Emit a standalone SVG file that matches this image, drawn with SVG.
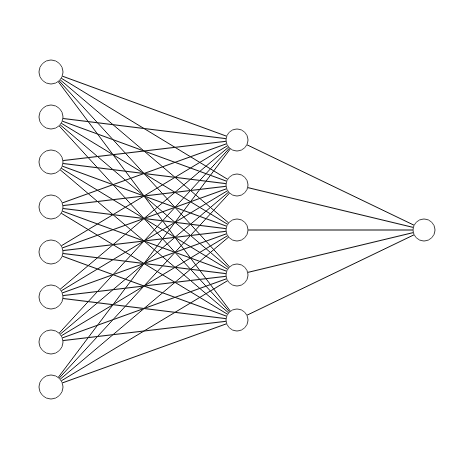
<svg xmlns="http://www.w3.org/2000/svg" width="474" height="462" viewBox="0 0 474 462">
<style>
.n{fill:#fff;stroke:#444;stroke-width:1}
.e{stroke:#111;stroke-width:1;fill:none}
</style>
<rect width="474" height="462" fill="#fff"/>
<g id="connectors" class="e">
<path d="M51,72L237,140M51,72L237,185M51,72L237,230M51,72L237,275M51,72L237,320"/>
<path d="M51,117L237,140M51,117L237,185M51,117L237,230M51,117L237,275M51,117L237,320"/>
<path d="M51,162L237,140M51,162L237,185M51,162L237,230M51,162L237,275M51,162L237,320"/>
<path d="M51,207L237,140M51,207L237,185M51,207L237,230M51,207L237,275M51,207L237,320"/>
<path d="M51,252L237,140M51,252L237,185M51,252L237,230M51,252L237,275M51,252L237,320"/>
<path d="M51,297L237,140M51,297L237,185M51,297L237,230M51,297L237,275M51,297L237,320"/>
<path d="M51,342L237,140M51,342L237,185M51,342L237,230M51,342L237,275M51,342L237,320"/>
<path d="M51,387L237,140M51,387L237,185M51,387L237,230M51,387L237,275M51,387L237,320"/>
<path d="M237,140L424,230M237,185L424,230M237,230L424,230M237,275L424,230M237,320L424,230"/>
</g>
<g id="i1"><circle class="n" cx="51" cy="72" r="12"/></g>
<g id="i2"><circle class="n" cx="51" cy="117" r="12"/></g>
<g id="i3"><circle class="n" cx="51" cy="162" r="12"/></g>
<g id="i4"><circle class="n" cx="51" cy="207" r="12"/></g>
<g id="i5"><circle class="n" cx="51" cy="252" r="12"/></g>
<g id="i6"><circle class="n" cx="51" cy="297" r="12"/></g>
<g id="i7"><circle class="n" cx="51" cy="342" r="12"/></g>
<g id="i8"><circle class="n" cx="51" cy="387" r="12"/></g>
<g id="h1"><circle class="n" cx="237" cy="140" r="11"/></g>
<g id="h2"><circle class="n" cx="237" cy="185" r="11"/></g>
<g id="h3"><circle class="n" cx="237" cy="230" r="11"/></g>
<g id="h4"><circle class="n" cx="237" cy="275" r="11"/></g>
<g id="h5"><circle class="n" cx="237" cy="320" r="11"/></g>
<g id="o1"><circle class="n" cx="424" cy="230" r="11"/></g>
</svg>
